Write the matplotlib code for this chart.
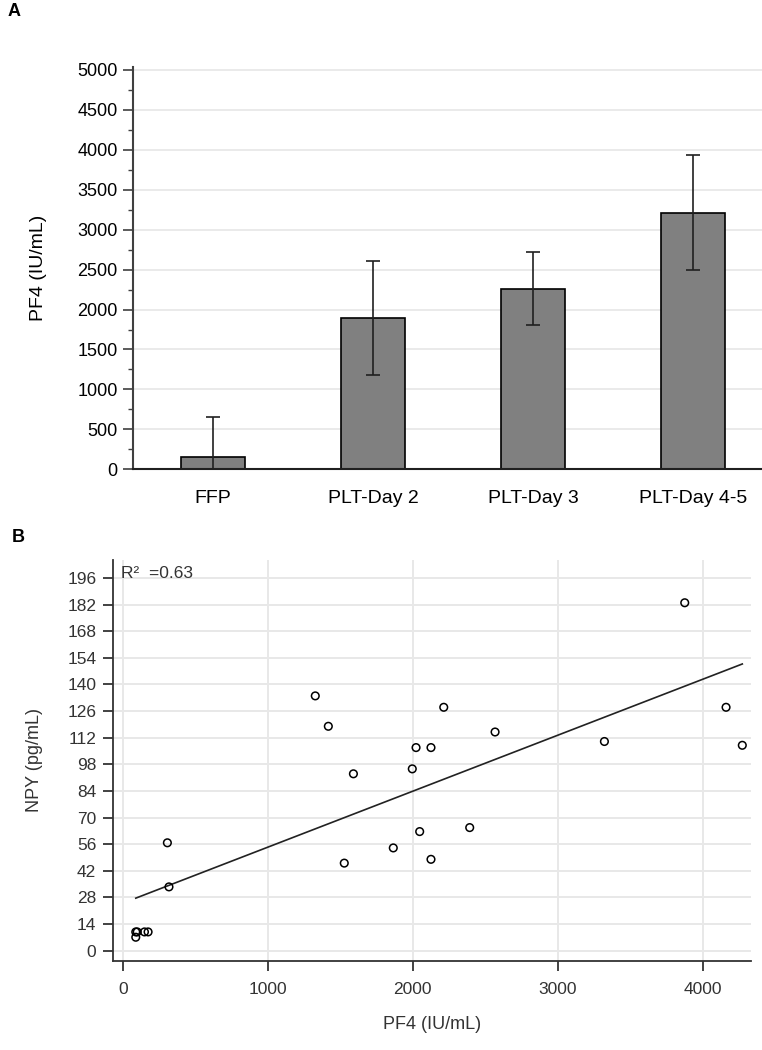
import matplotlib
matplotlib.use("Agg")
import matplotlib.pyplot as plt
import numpy as np

plt.rcParams['font.family'] = ['Liberation Sans', 'DejaVu Sans']

# ---- Panel A data ----
categories = ["FFP", "PLT-Day 2", "PLT-Day 3", "PLT-Day 4-5"]
pf4_mean = [160, 1895, 2260, 3210]
pf4_err = [500, 718, 455, 720]

# ---- Panel B data ----
pf4_x = [90, 100, 150, 175, 90, 308, 319, 1328, 1418, 1528, 1591, 1866, 1997,
         2023, 2048, 2126, 2126, 2214, 2393, 2568, 3322, 3876, 4161, 4273]
npy_y = [9.8, 9.8, 9.8, 9.8, 7.0, 56.7, 33.5, 134, 118, 46, 93, 54, 95.6,
         106.8, 62.6, 106.8, 48, 128, 64.7, 115, 110, 183, 128, 108]
r2_text = "R\u00b2  =0.63"

W, H = 762, 1050
fig = plt.figure(figsize=(W / 100, H / 100), dpi=100)

def rect(l, t, r, b):
    return [l / W, 1 - b / H, (r - l) / W, (b - t) / H]

# ================= Panel A =================
axA = fig.add_axes(rect(133, 66.7, 762, 469.3))
pos = np.arange(len(categories)) * 1.0
axA.bar(pos, pf4_mean, width=0.4, color="#808080", edgecolor="black",
        linewidth=1.2, zorder=2)
axA.errorbar(pos, pf4_mean, yerr=pf4_err, fmt="none", ecolor="#202020",
             elinewidth=1.2, capsize=4.7, capthick=1.2, zorder=3)
axA.set_xlim(-0.5, 3.43)
axA.set_ylim(0, 5040)
axA.set_yticks(np.arange(0, 5001, 500))
axA.set_yticks(np.arange(0, 5001, 250), minor=True)
axA.yaxis.grid(True, color="#e6e6e6", linewidth=1.2, zorder=0)
axA.set_axisbelow(True)
axA.set_xticks(pos)
axA.set_xticklabels(categories)
axA.tick_params(axis="x", length=0, pad=15, labelsize=14)
axA.tick_params(axis="y", which="major", length=7, width=1.2, pad=4,
                labelsize=13, color="#404040")
axA.tick_params(axis="y", which="minor", length=3.5, width=1.0, color="#404040")
for s in ["top", "right"]:
    axA.spines[s].set_visible(False)
axA.spines["left"].set_color("#404040")
axA.spines["left"].set_linewidth(1.5)
axA.spines["bottom"].set_color("#202020")
axA.spines["bottom"].set_linewidth(1.5)
axA.set_ylabel("PF4 (IU/mL)", fontsize=14)
axA.yaxis.set_label_coords((47 - 133) / 629, 0.5)
fig.text(8 / W, 1 - 12 / H, "A", fontsize=13, fontweight="bold",
         va="center", ha="left")

# ================= Panel B =================
axB = fig.add_axes(rect(113, 560, 751, 961))
axB.scatter(pf4_x, npy_y, s=30, facecolors="none", edgecolors="black",
            linewidths=1.1, zorder=3)
coef = np.polyfit(pf4_x, npy_y, 1)
xl = np.array([min(pf4_x), max(pf4_x)])
axB.plot(xl, np.polyval(coef, xl), color="#222222", linewidth=1.2, zorder=2)
axB.set_xlim(-67, 4333)
axB.set_ylim(-5.5, 205.5)
axB.set_yticks(np.arange(0, 197, 14))
axB.set_xticks(np.arange(0, 4001, 1000))
axB.grid(True, color="#e8e8e8", linewidth=1.4, zorder=0)
axB.set_axisbelow(True)
axB.tick_params(axis="y", length=7, width=1.3, pad=5, labelsize=12.5,
                color="#333333", labelcolor="#333333")
axB.tick_params(axis="x", length=7, width=1.3, pad=8, labelsize=12.5,
                color="#333333", labelcolor="#333333")
for s in ["top", "right"]:
    axB.spines[s].set_visible(False)
for s in ["left", "bottom"]:
    axB.spines[s].set_color("#333333")
    axB.spines[s].set_linewidth(1.3)
axB.set_xlabel("PF4 (IU/mL)", fontsize=13, color="#333333", labelpad=14)
axB.set_ylabel("NPY (pg/mL)", fontsize=13, color="#333333")
axB.yaxis.set_label_coords((43 - 113) / 638, 0.5)
axB.text(0.012, 0.985, r2_text, transform=axB.transAxes, fontsize=12.5,
         color="#333333", va="top", ha="left")
fig.text(12 / W, 1 - 537 / H, "B", fontsize=13, fontweight="bold",
         va="center", ha="left")

fig.savefig("out.png", dpi=100)
